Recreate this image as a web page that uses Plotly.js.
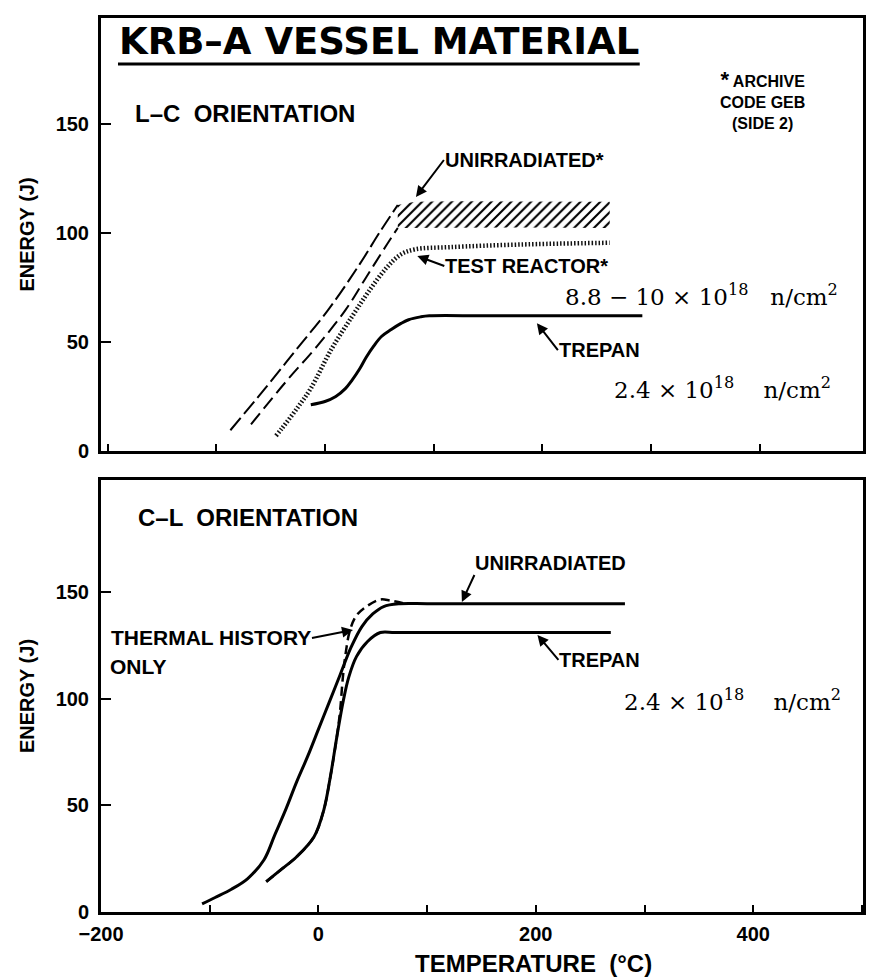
<!DOCTYPE html>
<html><head><meta charset="utf-8">
<script src="https://cdn.plot.ly/plotly-3.0.1.min.js"></script>
<style>body{margin:0;background:#fff}#chart{width:870px;height:978px}</style>
</head><body><div id="chart"></div>
<script>
// ---------- L-C orientation (upper panel) ----------
const lcUnirrUpperX = [-87, -55, -26, 3, 32, 51, 67, 83, 120, 180, 262];
const lcUnirrUpperY = [9.5, 28.7, 46.7, 64.7, 85.7, 100.8, 112.8, 114.3, 114.5, 114.5, 114.3];
const lcUnirrLowerX = [-68, -36, -7, 19, 38, 57, 67, 120, 180, 262];
const lcUnirrLowerY = [12.2, 31.7, 48.2, 64.7, 79.7, 94.7, 102.3, 102.5, 102.5, 102.3];
const lcTestX = [-45, -39, -25, -13, 6, 25, 41, 57, 70, 83, 115, 180, 262];
const lcTestY = [7, 10.7, 20, 28.7, 46.7, 61.7, 73.7, 84.2, 90.2, 92.5, 93.5, 94.7, 95.5];
const lcTrepanX = [-13, 0, 10, 19, 25, 32, 38, 45, 52, 61, 70, 77, 88, 96, 150, 292];
const lcTrepanY = [21.2, 22.7, 25, 28.7, 32.5, 37.7, 43, 48.2, 52.5, 55.7, 58.5, 60.2, 61.5, 62, 62, 62];

// ---------- C-L orientation (lower panel) ----------
const clUnirrX = [-107, -95, -80, -65, -50, -40, -30, -20, -10, 0, 10, 20, 30, 40, 50, 60, 75, 100, 150, 200, 282];
const clUnirrY = [3.8, 6.8, 10.7, 15.7, 24.5, 36.3, 48.1, 61, 72.8, 85.6, 98.4, 111.2, 124, 133.8, 139.7, 143.2, 144.5, 144.5, 144.5, 144.5, 144.5];
const clTrepanX = [-48, -35, -20, -4, 5, 11, 17, 23, 28, 35, 45, 57, 70, 100, 200, 269];
const clTrepanY = [14.2, 19.6, 25.9, 35.3, 47.9, 63.4, 82.2, 99.3, 110.2, 119.7, 126.7, 131, 131, 131, 131, 131];
const clThermalX = [-48, -35, -20, -4, 5, 11, 17, 20, 22.5, 25, 29, 35, 45, 57, 66, 80];
const clThermalY = [14.2, 19.6, 25.9, 35.3, 47.9, 63.4, 82.2, 94.5, 110, 121, 132, 139, 143.5, 146.5, 146, 144.5];

const yTicks = [0, 50, 100, 150];

const SANS = 'Liberation Sans, Arial, sans-serif';
const WIDE = 'DejaVu Sans, Verdana, sans-serif';
const SERIF = 'DejaVu Serif, Liberation Serif, serif';

const plateau = (xs, ys, x0) => {
  const px = [], py = [];
  xs.forEach((v, i) => { if (v >= x0) { px.push(v); py.push(ys[i]); } });
  return [px, py];
};
const rising = (xs, ys, x1) => {
  const px = [], py = [];
  xs.forEach((v, i) => { if (v <= x1) { px.push(v); py.push(ys[i]); } });
  return [px, py];
};

const [hLoX, hLoY] = plateau(lcUnirrLowerX, lcUnirrLowerY, 67);
const [hHiX, hHiY] = plateau(lcUnirrUpperX, lcUnirrUpperY, 67);
const [rLoX, rLoY] = rising(lcUnirrLowerX, lcUnirrLowerY, 67);
const [rHiX, rHiY] = rising(lcUnirrUpperX, lcUnirrUpperY, 67);

const traces = [
  {x: hLoX, y: hLoY, xaxis: 'x', yaxis: 'y', mode: 'lines', line: {width: 0, color: '#000'}, hoverinfo: 'skip', showlegend: false},
  {x: hHiX, y: hHiY, xaxis: 'x', yaxis: 'y', mode: 'lines', line: {width: 0, color: '#000'}, fill: 'tonexty',
   fillcolor: 'rgba(0,0,0,0)', fillpattern: {shape: '/', size: 7, solidity: 0.3, fgcolor: '#000', bgcolor: 'rgba(255,255,255,0)'},
   name: 'Unirradiated*', showlegend: false},
  {x: rLoX, y: rLoY, xaxis: 'x', yaxis: 'y', mode: 'lines', line: {width: 2, color: '#000', dash: '14px,6px', shape: 'spline'}, showlegend: false},
  {x: rHiX, y: rHiY, xaxis: 'x', yaxis: 'y', mode: 'lines', line: {width: 2, color: '#000', dash: '16px,5px', shape: 'spline'}, showlegend: false},
  {x: lcTestX, y: lcTestY, xaxis: 'x', yaxis: 'y', mode: 'lines', name: 'Test reactor*',
   line: {width: 4.5, color: '#111', dash: '1.5px,2px', shape: 'spline'}, showlegend: false},
  {x: lcTrepanX, y: lcTrepanY, xaxis: 'x', yaxis: 'y', mode: 'lines', name: 'Trepan',
   line: {width: 3, color: '#000', shape: 'spline'}, showlegend: false},

  {x: clUnirrX, y: clUnirrY, xaxis: 'x2', yaxis: 'y2', mode: 'lines', name: 'Unirradiated',
   line: {width: 3, color: '#000', shape: 'spline'}, showlegend: false},
  {x: clTrepanX, y: clTrepanY, xaxis: 'x2', yaxis: 'y2', mode: 'lines', name: 'Trepan',
   line: {width: 3, color: '#000', shape: 'spline'}, showlegend: false},
  {x: clThermalX, y: clThermalY, xaxis: 'x2', yaxis: 'y2', mode: 'lines', name: 'Thermal history only',
   line: {width: 2.5, color: '#000', dash: '9px,5px', shape: 'spline'}, showlegend: false}
];

const axisCommon = {
  showline: true, mirror: true, linecolor: '#000', linewidth: 3,
  ticks: 'inside', tickcolor: '#000', tickwidth: 2, showgrid: false, zeroline: false,
  automargin: false, fixedrange: true
};
const tickFont = (s) => ({family: SANS, size: s, color: '#000', weight: 'bold'});
const label = (xr, yr, x, y, t, s) => ({xref: xr, yref: yr, x: x, y: y, xanchor: 'left', yanchor: 'middle', showarrow: false,
  text: t, font: {family: SANS, size: s, color: '#000', weight: 'bold'}});
// label attached to an arrow: (x, y) is the arrow head, (ax, ay) the pixel offset of the label's anchor point
const arrowLabel = (xr, yr, x, y, ax, ay, xa, ya, t, s) => ({xref: xr, yref: yr, x: x, y: y, ax: ax, ay: ay,
  xanchor: xa, yanchor: ya, text: t, showarrow: true, arrowhead: 2, arrowsize: 1.1, arrowwidth: 2, arrowcolor: '#000',
  standoff: 0, startstandoff: 0, borderpad: 0,
  font: {family: SANS, size: s || 20, color: '#000', weight: 'bold'}});
const sci = (xr, yr, x, y, t) => ({xref: xr, yref: yr, x: x, y: y, xanchor: 'left', yanchor: 'middle', showarrow: false,
  text: t, font: {family: SERIF, size: 23, color: '#000'}});

const layout = {
  width: 870, height: 978,
  margin: {l: 101, r: 7, t: 18, b: 66},
  paper_bgcolor: '#fff', plot_bgcolor: '#fff',
  showlegend: false,
  xaxis: Object.assign({}, axisCommon, {domain: [0, 1], anchor: 'y', range: [-206, 495], tick0: 0, dtick: 100,
    showticklabels: false, ticklen: 7}),
  yaxis: Object.assign({}, axisCommon, {domain: [0.5157, 1], anchor: 'x', range: [0, 198.6], tickvals: yTicks,
    ticklen: 10, ticklabelstandoff: 5, tickfont: tickFont(20),
    title: {text: 'ENERGY (J)', font: {family: SANS, size: 20, color: '#000', weight: 'bold'}, standoff: 16}}),
  xaxis2: Object.assign({}, axisCommon, {domain: [0, 1], anchor: 'y2', range: [-200, 501], tick0: 0, dtick: 200,
    ticklen: 7, ticklabelstandoff: 2, tickfont: tickFont(20),
    minor: {tick0: 0, dtick: 100, ticks: 'inside', ticklen: 7, tickwidth: 2, tickcolor: '#000', showgrid: false}}),
  yaxis2: Object.assign({}, axisCommon, {domain: [0, 0.4832], anchor: 'x2', range: [0, 202.5], tickvals: yTicks,
    ticklen: 10, ticklabelstandoff: 5, tickfont: tickFont(20),
    title: {text: 'ENERGY (J)', font: {family: SANS, size: 20, color: '#000', weight: 'bold'}, standoff: 16}}),
  shapes: [
    {type: 'line', xref: 'paper', yref: 'paper', x0: 0.0223, x1: 0.707, y0: 0.9485, y1: 0.9485, line: {color: '#000', width: 3}}
  ],
  annotations: [
    {xref: 'paper', yref: 'paper', x: 0.021, y: 0.9735, xanchor: 'left', yanchor: 'middle', showarrow: false,
     text: 'KRB–A VESSEL MATERIAL', font: {family: WIDE, size: 37, color: '#000', weight: 'bold'}},
    {xref: 'paper', yref: 'paper', x: 0.567, y: -0.0575, xanchor: 'center', yanchor: 'middle', showarrow: false,
     text: 'TEMPERATURE  (°C)', font: {family: SANS, size: 24, color: '#000', weight: 'bold'}},

    // upper panel
    label('x', 'y', -177, 155, 'L–C  ORIENTATION', 24),
    {xref: 'x', yref: 'y', x: 403, y: 161, xanchor: 'center', yanchor: 'middle', showarrow: false, align: 'center',
     text: '<span style="font-size:22px">*</span> ARCHIVE<br>CODE GEB<br>(SIDE 2)', font: {family: SANS, size: 16, color: '#000', weight: 'bold'}},
    arrowLabel('x', 'y', 83.7, 116.5, 28, -37, 'left', 'middle', 'UNIRRADIATED*'),
    arrowLabel('x', 'y', 85, 89.4, 27, 10, 'left', 'middle', 'TEST REACTOR*'),
    sci('x', 'y', 219, 71.6, '8.8 − 10 × 10<sup>18</sup>   n/cm<sup>2</sup>'),
    arrowLabel('x', 'y', 195, 58.6, 21, 27, 'left', 'middle', 'TREPAN'),
    sci('x', 'y', 264, 28.9, '2.4 × 10<sup>18</sup>    n/cm<sup>2</sup>'),

    // lower panel
    label('x2', 'y2', -167.4, 184.7, 'C–L  ORIENTATION', 24),
    arrowLabel('x2', 'y2', 132, 145.3, 12.5, -27, 'left', 'bottom', 'UNIRRADIATED'),
    arrowLabel('x2', 'y2', 31.8, 132.2, -41, 8, 'right', 'middle', 'THERMAL HISTORY', 21),
    label('x2', 'y2', -194, 114.9, 'ONLY', 21),
    arrowLabel('x2', 'y2', 201.5, 129.9, 21, 25, 'left', 'middle', 'TREPAN'),
    sci('x2', 'y2', 279.7, 99.4, '2.4 × 10<sup>18</sup>    n/cm<sup>2</sup>')
  ]
};

Plotly.newPlot('chart', traces, layout, {staticPlot: true, displayModeBar: false});
</script>
</body></html>
